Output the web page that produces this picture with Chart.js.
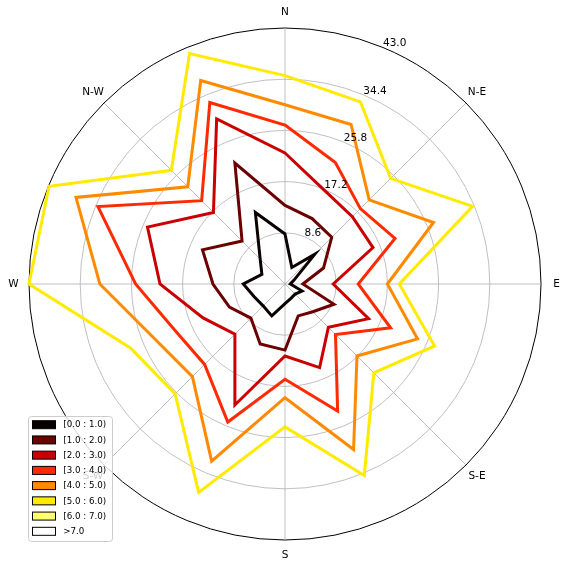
<!DOCTYPE html>
<html>
<head>
<meta charset="utf-8">
<script src="https://cdn.jsdelivr.net/npm/chart.js@4.4.1/dist/chart.umd.min.js"></script>
<style>
    html, body { margin: 0; padding: 0; background: #fff; }
    canvas { display: block; }
</style>
</head>
<body>
<canvas id="rosa" width="568" height="569"></canvas>
<script>
// direcoes (sentido horario a partir do norte)
const direcoes = ['N','NNE','NE','ENE','E','ESE','SE','SSE','S','SSW','SW','WSW','W','WNW','NW','NNW'];
const rotulosBussola = ['N','N-E','E','S-E','S','S-W','W','N-W'];
const ticksRaio = [8.6, 17.2, 25.8, 34.4, 43.0];

const faixas = ['[0.0 : 1.0)','[1.0 : 2.0)','[2.0 : 3.0)','[3.0 : 4.0)','[4.0 : 5.0)','[5.0 : 6.0)','[6.0 : 7.0)','>7.0'];
const cores = ['#0b0000','#6a0000','#ca0000','#ff2a00','#ff8a00','#ffea00','#ffff70','#ffffff'];

// frequencia acumulada (%) por direcao
const faixa0 = [8.4, 3.0, 7.1, 1.6, 0.9, 3.1, 2.4, 2.6, 3.3, 5.8, 5.2, 5.6, 7.0, 4.2, 5.9, 13.0];
const faixa1 = [13.2, 11.9, 11.1, 7.0, 3.0, 8.9, 6.6, 5.8, 11.1, 10.9, 8.1, 10.1, 12.1, 15.0, 10.2, 22.0];
const faixa2 = [22.0, 17.1, 16.0, 16.0, 8.1, 15.2, 10.3, 15.2, 12.1, 22.0, 11.9, 14.9, 21.0, 25.0, 17.0, 30.0];
const faixa3 = [26.7, 22.1, 17.9, 20.0, 12.3, 19.2, 12.0, 23.1, 16.0, 25.1, 19.1, 20.1, 25.1, 34.0, 19.8, 33.0];
const faixa4 = [30.1, 29.0, 20.0, 27.0, 17.2, 24.1, 17.1, 30.1, 19.1, 32.2, 22.0, 23.8, 31.1, 38.0, 23.1, 37.0];
const faixa5 = [35.0, 33.1, 25.1, 34.1, 19.2, 27.2, 21.1, 34.8, 24.0, 37.9, 26.1, 28.1, 43.0, 42.9, 27.0, 41.9];

const series = [faixa0, faixa1, faixa2, faixa3, faixa4, faixa5];
const fonte = '"DejaVu Sans", sans-serif';

const rotulos = {
    id: 'rotulos',
    afterDatasetsDraw(chart) {
        const s = chart.scales.r;
        const ctx = chart.ctx;
        ctx.save();
        ctx.fillStyle = '#000';
        ctx.font = `10.5px ${fonte}`;

        ctx.textAlign = 'left';
        ctx.textBaseline = 'alphabetic';
        ticksRaio.forEach(v => {
            const p = s.getPointPosition(1, s.getDistanceFromCenterForValue(v));
            ctx.fillText(v.toFixed(1), p.x, p.y - 1);
        });

        ctx.textAlign = 'center';
        ctx.textBaseline = 'middle';
        rotulosBussola.forEach((txt, i) => {
            const p = s.getPointPosition(i * 2, s.drawingArea + 15.5);
            ctx.fillText(txt, p.x, p.y);
        });
        ctx.restore();
    },
    afterDraw(chart) {
        // legenda no canto inferior esquerdo
        const ctx = chart.ctx;
        ctx.save();
        ctx.beginPath();
        ctx.roundRect(28.5, 416.5, 84, 125, 3);
        ctx.fillStyle = 'rgba(255,255,255,0.8)';
        ctx.fill();
        ctx.strokeStyle = '#cccccc';
        ctx.lineWidth = 1;
        ctx.stroke();

        ctx.font = `8.7px ${fonte}`;
        ctx.textBaseline = 'middle';
        faixas.forEach((txt, i) => {
            const y = 424.7 + i * 15.23;
            ctx.fillStyle = cores[i];
            ctx.fillRect(32.5, y - 4, 23, 8);
            ctx.strokeStyle = '#000';
            ctx.lineWidth = 1;
            ctx.strokeRect(32.5, y - 4, 23, 8);
            ctx.fillStyle = '#000';
            ctx.fillText(txt, 63.3, y + 0.5);
        });
        ctx.restore();
    }
};

new Chart(document.getElementById('rosa'), {
    type: 'radar',
    data: {
        labels: direcoes,
        datasets: series.map((dados, i) => ({
            label: faixas[i],
            data: dados,
            borderColor: cores[i],
            borderWidth: 3,
            fill: false,
            pointRadius: 0,
            tension: 0,
            order: series.length - i
        }))
    },
    options: {
        responsive: false,
        animation: false,
        layout: { padding: { left: 29, right: 27, top: 28, bottom: 29 } },
        plugins: {
            legend: { display: false },
            tooltip: { enabled: false }
        },
        scales: {
            r: {
                min: 0,
                max: 43,
                ticks: { stepSize: 8.6, display: false },
                pointLabels: { display: false },
                grid: {
                    circular: true,
                    color: c => (c.tick && c.tick.value >= 42.9) ? '#000000' : '#b0b0b0',
                    lineWidth: c => (c.tick && c.tick.value >= 42.9) ? 1 : 0.8
                },
                angleLines: {
                    color: '#b0b0b0',
                    lineWidth: c => c.index % 2 ? 0 : 0.8
                }
            }
        }
    },
    plugins: [rotulos]
});
</script>
</body>
</html>
